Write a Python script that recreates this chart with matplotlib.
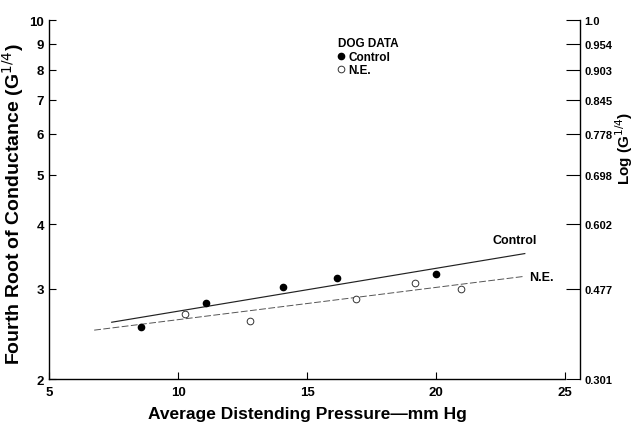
import numpy as np
import matplotlib
matplotlib.use("Agg")
import matplotlib.pyplot as plt
from matplotlib.ticker import FixedLocator, NullLocator, FixedFormatter

# Dog data
ctrl_x = [8.54, 11.06, 14.06, 16.16, 20.0]
ctrl_y = [2.52, 2.81, 3.02, 3.14, 3.20]
ne_x = [10.26, 12.78, 16.89, 19.2, 20.98]
ne_y = [2.68, 2.59, 2.86, 3.08, 3.00]

# fitted lines (end points)
ctrl_fit_x = [7.42, 23.44]
ctrl_fit_y = [2.58, 3.51]
ne_fit_x = [6.74, 23.44]
ne_fit_y = [2.49, 3.17]

x_ticks = [5, 10, 15, 20, 25]
y_ticks = [2, 3, 4, 5, 6, 7, 8, 9, 10]
y_labels = ["2", "3", "4", "5", "6", "7", "8", "9", "10"]
log_labels = ["0.301", "0.477", "0.602", "0.698", "0.778", "0.845", "0.903", "0.954", "1.0"]

plt.rcParams['font.family'] = ['Liberation Sans', 'DejaVu Sans']

fig = plt.figure(figsize=(6.38, 4.27), dpi=100)
ax = fig.add_axes([0.0773, 0.110, 0.8083, 0.8407])

ax.plot(ctrl_fit_x, ctrl_fit_y, color='#222222', lw=0.85)
ax.plot(ne_fit_x, ne_fit_y, color='#555555', lw=0.7, linestyle=(0, (7, 2.5)))
ax.plot(ctrl_x, ctrl_y, 'o', color='black', ms=4.5, label='Control')
ax.plot(ne_x, ne_y, 'o', mfc='white', mec='#333333', mew=0.7, ms=4.8, label='N.E.')

ax.annotate('Control', (ctrl_fit_x[-1], ctrl_fit_y[-1]), xytext=(8.5, 10),
            textcoords='offset points', ha='right', va='center',
            fontsize=9, fontweight='bold')
ax.annotate('N.E.', (ne_fit_x[-1], ne_fit_y[-1]), xytext=(3, -0.5),
            textcoords='offset points', ha='left', va='center',
            fontsize=9, fontweight='bold')

ax.set_yscale('log')
ax.set_xlim(5, 25)
ax.set_ylim(2, 10)
ax.xaxis.set_major_locator(FixedLocator(x_ticks))
ax.yaxis.set_major_locator(FixedLocator(y_ticks))
ax.yaxis.set_major_formatter(FixedFormatter(y_labels))
ax.yaxis.set_minor_locator(NullLocator())
ax.spines['top'].set_visible(False)
ax.spines['right'].set_visible(False)
for s in ('left', 'bottom'):
    ax.spines[s].set_linewidth(1.0)
ax.tick_params(axis='both', direction='in', length=5, width=0.8,
               labelsize=9.5)
ax.tick_params(axis='x', pad=5)
ax.tick_params(axis='y', pad=4)
for lbl in ax.get_xticklabels() + ax.get_yticklabels():
    lbl.set_fontweight('bold')

ax.set_xlabel('Average Distending Pressure\u2014mm Hg', fontsize=12.5,
              fontweight='bold', labelpad=6)
ax.set_ylabel('Fourth Root of Conductance (G$^{1/4}$)', fontsize=14,
              fontweight='bold', labelpad=2)
ax.yaxis.label.set_y(0.49)

# log axis on the right, offset from the plot
ax2 = ax.twinx()
ax2.set_yscale('log')
ax2.set_ylim(2, 10)
ax2.yaxis.set_major_locator(FixedLocator(y_ticks))
ax2.yaxis.set_major_formatter(FixedFormatter(log_labels))
ax2.yaxis.set_minor_locator(NullLocator())
for s in ('top', 'left', 'bottom'):
    ax2.spines[s].set_visible(False)
ax2.spines['right'].set_position(('outward', 10.8))
ax2.spines['right'].set_linewidth(1.0)
ax2.tick_params(axis='y', direction='in', length=10, width=0.8,
                labelsize=8, pad=3)
for lbl in ax2.get_yticklabels():
    lbl.set_fontweight('bold')
ax2.set_ylabel('Log (G$^{1/4}$)', fontsize=11, fontweight='bold', labelpad=1)
ax2.yaxis.label.set_y(0.645)

leg = ax.legend(loc='upper left', bbox_to_anchor=(0.56, 0.953), frameon=False,
                title='DOG DATA', fontsize=8.5, handlelength=0.5,
                handletextpad=0.4, borderpad=0.0, borderaxespad=0.0,
                labelspacing=0.15)
leg.get_title().set_fontweight('bold')
leg.get_title().set_fontsize(8.5)
leg._legend_box.align = 'left'
for t in leg.get_texts():
    t.set_fontweight('bold')

fig.savefig('out.png', dpi=100)
